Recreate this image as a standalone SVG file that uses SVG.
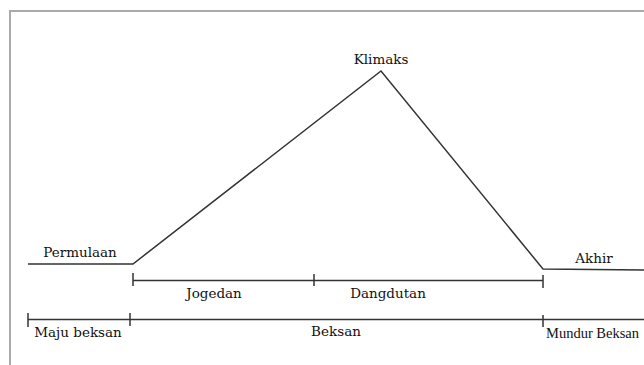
<svg xmlns="http://www.w3.org/2000/svg" width="644" height="365" viewBox="0 0 644 365">
<style>
  .ln{stroke:#333;stroke-width:1.5;fill:none;stroke-linecap:butt}
  .lbl{font-family:"DejaVu Serif","Liberation Serif",serif;font-size:13.5px;fill:#111}
  .nar{font-family:"Liberation Serif","DejaVu Serif",serif;font-size:14.5px}
</style>
<rect x="0" y="0" width="644" height="365" fill="#fff"/>
<path d="M10,365 V11 H644" fill="none" stroke="#aaa" stroke-width="2"/>
<g id="connectors">
  <polyline class="ln" points="28,264 133,264 381,71 543,269 644,270"/>
  <line class="ln" x1="133" y1="280.5" x2="543" y2="280.5"/>
  <line class="ln" x1="133" y1="273" x2="133" y2="286"/>
  <line class="ln" x1="314" y1="274" x2="314" y2="286"/>
  <line class="ln" x1="543" y1="275" x2="543" y2="288"/>
  <line class="ln" x1="28" y1="319.5" x2="644" y2="319.5"/>
  <line class="ln" x1="28" y1="313" x2="28" y2="327"/>
  <line class="ln" x1="130" y1="313" x2="130" y2="326"/>
  <line class="ln" x1="543" y1="315" x2="543" y2="327"/>
</g>
<g id="klimaks"><text class="lbl" x="381" y="64" text-anchor="middle">Klimaks</text></g>
<g id="permulaan"><text class="lbl" x="80" y="257" text-anchor="middle">Permulaan</text></g>
<g id="akhir"><text class="lbl" x="594" y="263" text-anchor="middle">Akhir</text></g>
<g id="jogedan"><text class="lbl" x="214" y="298" text-anchor="middle">Jogedan</text></g>
<g id="dangdutan"><text class="lbl" x="388" y="298" text-anchor="middle">Dangdutan</text></g>
<g id="maju-beksan"><text class="lbl" x="78" y="337" text-anchor="middle">Maju beksan</text></g>
<g id="beksan"><text class="lbl" x="336" y="336" text-anchor="middle">Beksan</text></g>
<g id="mundur-beksan"><text class="lbl nar" x="546" y="338">Mundur Beksan</text></g>
</svg>
